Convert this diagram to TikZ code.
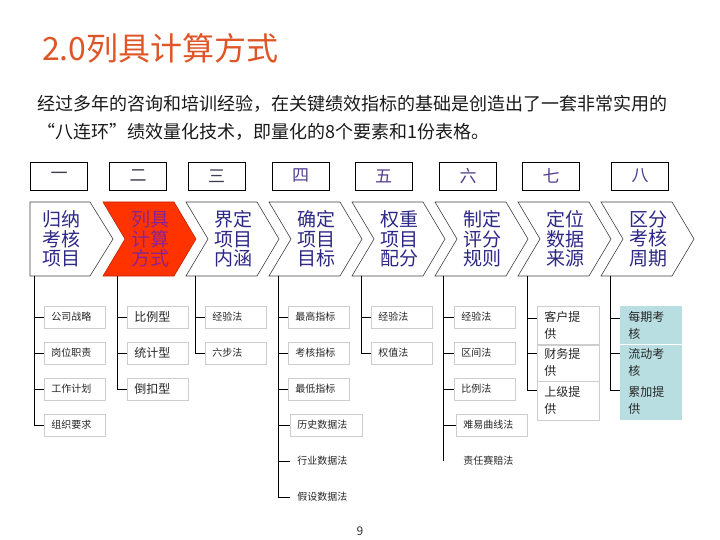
\documentclass[tikz,border=0pt]{standalone}
\usepackage{fontspec}
\setmainfont{Noto Sans CJK SC}
\usetikzlibrary{calc,positioning}
\definecolor{biaoti}{RGB}{222,86,40}
\definecolor{chevblue}{RGB}{45,40,135}
\definecolor{chevred}{RGB}{255,51,0}
\definecolor{chevpurple}{RGB}{135,35,150}
\definecolor{numgray}{RGB}{60,60,80}
\definecolor{numpurple}{RGB}{85,60,140}
\definecolor{boxgray}{RGB}{205,205,205}
\definecolor{tealfill}{RGB}{185,222,226}

\begin{document}
\begin{tikzpicture}[x=1pt,y=-1pt,
	chevline/.style={draw=black!75,line width=0.6pt,fill=white},
	chevtext/.style={align=center,inner sep=0pt,font=\fontsize{19}{19.5}\selectfont,text=chevblue},
	numbox/.style={draw=black,line width=0.5pt,minimum width=57pt,minimum height=28pt,inner sep=0pt,font=\fontsize{17}{17}\selectfont},
	item/.style={anchor=west,draw=boxgray,line width=0.5pt,inner xsep=7pt,inner ysep=0pt,minimum height=22pt,text width=47pt,align=left,font=\fontsize{10}{12}\selectfont,text=black!85},
	plainitem/.style={item,draw=none},
	tallitem/.style={anchor=north west,draw=boxgray,line width=0.5pt,inner xsep=7pt,inner ysep=0pt,text width=48pt,align=left,font=\fontsize{12}{17}\selectfont,text=black!85},
	conn/.style={draw=black,line width=0.8pt}]
	\useasboundingbox (0,0) rectangle (720,540);
	% 标题和说明
	\node[anchor=west,inner sep=0pt,text=biaoti,font=\fontsize{32}{32}\selectfont] (bt) at (42,48) {2.0列具计算方式};
	\node[anchor=west,inner sep=0pt,font=\fontsize{18}{18}\selectfont,text=black!90] (zw1) at (37,104) {经过多年的咨询和培训经验，在关键绩效指标的基础是创造出了一套非常实用的};
	\node[anchor=west,inner sep=0pt,font=\fontsize{18}{18}\selectfont,text=black!90] (zw2) at (37,132) {“八连环”绩效量化技术，即量化的8个要素和1份表格。};
	% 序号框
	\foreach \x/\t/\c [count=\i] in {59/一/numgray,138/二/numgray,216.5/三/numgray,300.5/四/numpurple,383.5/五/numpurple,468/六/numpurple,551/七/numpurple,640/八/numpurple}
		\node[numbox,text=\c] (n\i) at (\x,176) {\t};
	% 绘制箭头
	\draw[chevline] (30,202) -- (90,202) -- (113,239) -- (90,276) -- (30,276) -- cycle;
	\foreach \i in {3,...,8}{
		\pgfmathsetmacro{\L}{103+83*(\i-2)}
		\draw[chevline] (\L,202) -- ++(71,0) -- ++(22,37) -- ++(-22,37) -- ++(-71,0) -- ++(22,-37) -- cycle;
	}
	\draw[chevline,fill=chevred,draw=chevred!75!black] (103,202) -- ++(71,0) -- ++(22,37) -- ++(-22,37) -- ++(-71,0) -- ++(22,-37) -- cycle;
	% 箭头文字
	\node[chevtext] (s1) at (61,239) {归纳\\考核\\项目};
	\node[chevtext,text=chevpurple] (s2) at (150,239) {列具\\计算\\方式};
	\foreach \i/\t in {3/{界定\\项目\\内涵},4/{确定\\项目\\目标},5/{权重\\项目\\配分},6/{制定\\评分\\规则},7/{定位\\数据\\来源},8/{区分\\考核\\周期}}
		\node[chevtext] (s\i) at ({150+83*(\i-2)},239) {\t};
	% 竖线起点
	\foreach \x [count=\i] in {34,117,195,278,361,443,527,610}
		\coordinate (t\i) at (\x,276);
	% 第一列
	\foreach \t [count=\j] in {公司战略,岗位职责,工作计划,组织要求}
		\node[item] (a\j) at (44,{317+36*(\j-1)}) {\t};
	\foreach \j in {1,...,4} \draw[conn] (t1) |- (a\j.west);
	% 第二列
	\foreach \t [count=\j] in {比例型,统计型,倒扣型}
		\node[item,font=\fontsize{12}{14}\selectfont] (b\j) at (127,{317+36*(\j-1)}) {\t};
	\foreach \j in {1,...,3} \draw[conn] (t2) |- (b\j.west);
	% 第三列
	\node[item] (c1) at (205,317) {经验法};
	\node[item] (c2) at (205,353) {六步法};
	\foreach \j in {1,2} \draw[conn] (t3) |- (c\j.west);
	% 第四列
	\foreach \t [count=\j] in {最高指标,考核指标,最低指标}
		\node[item] (d\j) at (288,{317+36*(\j-1)}) {\t};
	\node[item,text width=58pt] (d4) at (290,425) {历史数据法};
	\node[plainitem] (d5) at (290,461) {行业数据法};
	\node[plainitem] (d6) at (290,497) {假设数据法};
	\foreach \j in {1,...,6} \draw[conn] (t4) |- (d\j.west);
	% 第五列
	\node[item] (e1) at (371,317) {经验法};
	\node[item] (e2) at (371,353) {权值法};
	\foreach \j in {1,2} \draw[conn] (t5) |- (e\j.west);
	% 第六列
	\foreach \t [count=\j] in {经验法,区间法,比例法}
		\node[item] (f\j) at (454,{317+36*(\j-1)}) {\t};
	\node[item,text width=57pt] (f4) at (456,425) {难易曲线法};
	\node[plainitem] (f5) at (456,461) {责任赛赔法};
	\foreach \j in {1,...,4} \draw[conn] (t6) |- (f\j.west);
	\draw[conn] (t6) -- (t6 |- f5.west);
	% 第七列
	\node[tallitem,minimum height=38pt] (g1) at (537,306) {客户提\\供};
	\node[tallitem,minimum height=36pt,below=0pt of g1] (g2) {财务提\\供};
	\node[tallitem,minimum height=39pt,below=0pt of g2] (g3) {上级提\\供};
	\draw[conn] (t7) |- ([yshift=-12pt]g1.north west);
	\draw[conn] (t7) |- ([yshift=-9pt]g2.north west);
	\draw[conn] (t7) |- ([yshift=-9pt]g3.north west);
	% 第八列
	\node[tallitem,draw=none,fill=tealfill,inner xsep=8pt,text width=46pt,minimum height=38pt] (h1) at (620,306) {每期考\\核};
	\node[tallitem,draw=none,fill=tealfill,inner xsep=8pt,text width=46pt,minimum height=36pt,below=0pt of h1] (h2) {流动考\\核};
	\node[tallitem,draw=none,fill=tealfill,inner xsep=8pt,text width=46pt,minimum height=39pt,below=0pt of h2] (h3) {累加提\\供};
	\draw[conn] (t8) |- ([yshift=-12pt]h1.north west);
	\draw[conn] (t8) |- ([yshift=-9pt]h2.north west);
	\draw[conn] (t8) |- ([yshift=-9pt]h3.north west);
	% 页码
	\node[font=\fontsize{12}{12}\selectfont,text=black!80] (ym) at (360,531) {9};
\end{tikzpicture}
\end{document}
